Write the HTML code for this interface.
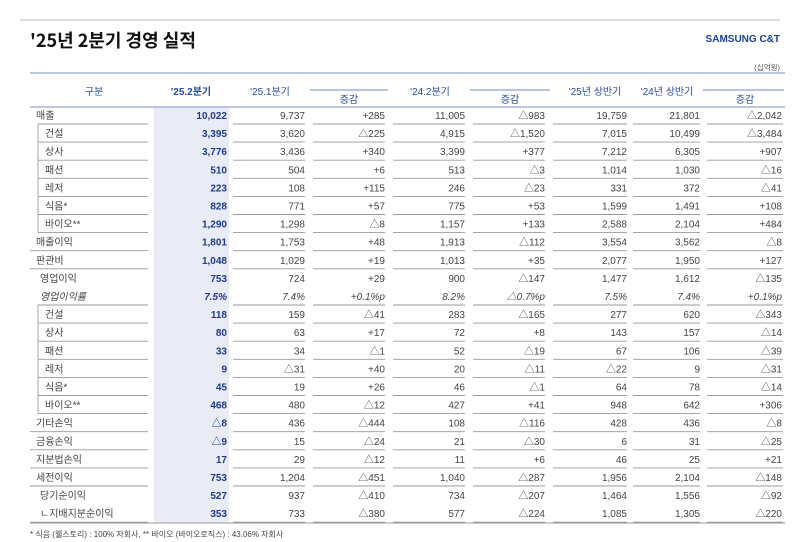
<!DOCTYPE html>
<html><head><meta charset="utf-8"><style>
body{margin:0;background:#fff;width:800px;height:542px;overflow:hidden}
svg{display:block;font-family:"Liberation Sans","Noto Sans CJK KR",sans-serif}
</style></head><body>
<svg id="s" width="800" height="542" viewBox="0 0 800 542" xmlns="http://www.w3.org/2000/svg">
<line x1="20" y1="20" x2="780" y2="20" stroke="#bbb" stroke-width="1"/>
<text x="30" y="47" font-size="18" font-weight="bold" fill="#111" font-family="Noto Sans CJK KR, sans-serif">'25년 2분기 경영 실적</text>
<text x="780" y="42" font-size="10" font-weight="bold" fill="#1b3f94" text-anchor="end">SAMSUNG C&amp;T</text>
<text x="780" y="70" font-size="7.5" fill="#555" text-anchor="end">(십억원)</text>
<rect x="154" y="107" width="75" height="416" fill="#e9ecf5"/>
<line x1="30" y1="73" x2="785" y2="73" stroke="#8fa6d6" stroke-width="1.2"/>
<line x1="30" y1="107" x2="785" y2="107" stroke="#8fa6d6" stroke-width="1.2"/>
<line x1="310" y1="90" x2="388" y2="90" stroke="#6f8acb"/>
<line x1="470" y1="90" x2="550" y2="90" stroke="#6f8acb"/>
<line x1="703" y1="90" x2="784" y2="90" stroke="#6f8acb"/>
<g id="g" font-size="10"></g>
<text x="30" y="537" font-size="8" fill="#444">* 식음 (웰스토리) : 100% 자회사, ** 바이오 (바이오로직스) : 43.06% 자회사</text>
</svg>
<script>
const g=document.getElementById('g');let h='';
const B='#2a4a9a';
function t(x,y,s,o){h+=`<text x="${x}" y="${y}" ${o||''}>${s}</text>`}
t(94,95,'구분',`fill="${B}" text-anchor="middle"`);
t(191,95,"'25.2분기",`fill="${B}" font-weight="bold" text-anchor="middle"`);
t(270,95,"'25.1분기",`fill="${B}" text-anchor="middle"`);
t(349,103,'증감',`fill="${B}" text-anchor="middle"`);
t(430,95,"'24.2분기",`fill="${B}" text-anchor="middle"`);
t(510,103,'증감',`fill="${B}" text-anchor="middle"`);
t(595,95,"'25년 상반기",`fill="${B}" text-anchor="middle"`);
t(667,95,"'24년 상반기",`fill="${B}" text-anchor="middle"`);
t(745,103,'증감',`fill="${B}" text-anchor="middle"`);
const R=[
['매출',0,'10,022','9,737','+285','11,005','△983','19,759','21,801','△2,042'],
['건설',1,'3,395','3,620','△225','4,915','△1,520','7,015','10,499','△3,484'],
['상사',1,'3,776','3,436','+340','3,399','+377','7,212','6,305','+907'],
['패션',1,'510','504','+6','513','△3','1,014','1,030','△16'],
['레저',1,'223','108','+115','246','△23','331','372','△41'],
['식음*',1,'828','771','+57','775','+53','1,599','1,491','+108'],
['바이오**',1,'1,290','1,298','△8','1,157','+133','2,588','2,104','+484'],
['매출이익',0,'1,801','1,753','+48','1,913','△112','3,554','3,562','△8'],
['판관비',0,'1,048','1,029','+19','1,013','+35','2,077','1,950','+127'],
['영업이익',2,'753','724','+29','900','△147','1,477','1,612','△135'],
['영업이익률',3,'7.5%','7.4%','+0.1%p','8.2%','△0.7%p','7.5%','7.4%','+0.1%p'],
['건설',1,'118','159','△41','283','△165','277','620','△343'],
['상사',1,'80','63','+17','72','+8','143','157','△14'],
['패션',1,'33','34','△1','52','△19','67','106','△39'],
['레저',1,'9','△31','+40','20','△11','△22','9','△31'],
['식음*',1,'45','19','+26','46','△1','64','78','△14'],
['바이오**',1,'468','480','△12','427','+41','948','642','+306'],
['기타손익',0,'△8','436','△444','108','△116','428','436','△8'],
['금융손익',0,'△9','15','△24','21','△30','6','31','△25'],
['지분법손익',0,'17','29','△12','11','+6','46','25','+21'],
['세전이익',0,'753','1,204','△451','1,040','△287','1,956','2,104','△148'],
['당기순이익',2,'527','937','△410','734','△207','1,464','1,556','△92'],
['ㄴ지배지분순이익',4,'353','733','△380','577','△224','1,085','1,305','△220']];
const X=[227,305,385,465,545,627,700,782];
const seg=[[233,305],[313,385],[393,465],[473,545],[553,627],[633,700],[707,783]];
R.forEach((r,i)=>{
 const y=115+i*18.1;const it=r[1]==3?'font-style="italic"':'';
 const lx=r[1]==1?45:(r[1]==2||r[1]==3?40:(r[1]==4?40:36));
 t(lx,y+4,r[0],`fill="#444" ${it}`);
 for(let j=0;j<8;j++){
  const v=r[2+j];
  if(j==0)t(X[j],y+4,v,`fill="#1f3a8a" font-weight="bold" text-anchor="end" ${it}`);
  else t(X[j],y+4,v,`fill="#444" text-anchor="end" ${it}`);
 }
 const ly=y+9;
 const noLine=(i==21||i==9);
 if(!noLine){
  seg.forEach(s=>h+=`<line x1="${s[0]}" y1="${ly}" x2="${s[1]}" y2="${ly}" stroke="#999" stroke-width="0.9"/>`);
  const x0=(r[1]==1||(R[i+1]&&R[i+1][1]==1))?38:30;
  h+=`<line x1="${x0}" y1="${ly}" x2="148" y2="${ly}" stroke="#999" stroke-width="0.9"/>`;
 }
 if(r[1]==1)h+=`<line x1="38" y1="${y-9}" x2="38" y2="${y+9}" stroke="#999" stroke-width="0.9"/>`;
});
h+=`<line x1="30" y1="523" x2="785" y2="523" stroke="#999" stroke-width="0.9"/>`;
g.innerHTML=h;
</script>
</body></html>
